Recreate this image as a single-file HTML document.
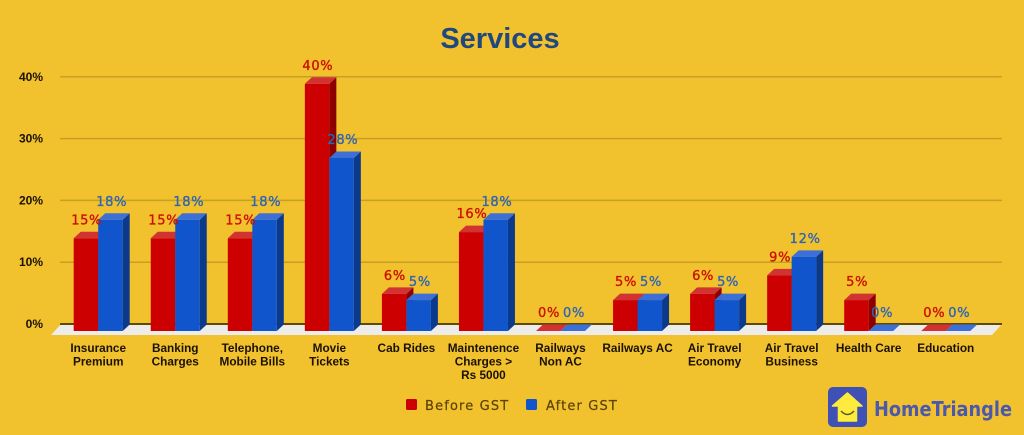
<!DOCTYPE html>
<html>
<head>
<meta charset="utf-8">
<title>Services</title>
<style>
html,body{margin:0;padding:0;background:#f2c12e;}
svg{display:block;}
.cat{font:bold 11.8px "Liberation Sans",sans-serif;fill:#1a1204;text-anchor:middle;}
.tick{font:bold 12px "Liberation Sans",sans-serif;fill:#1a1204;text-anchor:end;}
.val{font:13px "DejaVu Sans",sans-serif;text-anchor:middle;stroke-width:.35px;letter-spacing:.7px;}
.leg{font:13px "DejaVu Sans",sans-serif;fill:#5a4208;stroke:#5a4208;stroke-width:.2px;letter-spacing:1.15px;}
</style>
</head>
<body>
<svg id="chart" xmlns="http://www.w3.org/2000/svg" width="1024" height="435" viewBox="0 0 1024 435">
  <rect width="1024" height="435" fill="#f2c12e"/>
  <text x="500" y="48" text-anchor="middle" font-family="Liberation Sans, sans-serif" font-weight="bold" font-size="29" fill="#20487f">Services</text>
  <polygon points="51,335 61,324 1002,324 992,335" fill="#edecea"/>
  <g id="grid"></g>
  <g id="ticks"></g>
  <g id="bars"></g>
  <g id="values"></g>
  <g id="cats"></g>
  <g>
    <rect x="406" y="399" width="11" height="11" rx="1.5" fill="#cc0000"/>
    <text class="leg" x="425" y="410">Before GST</text>
    <rect x="526" y="399" width="11" height="11" rx="1.5" fill="#1155cc"/>
    <text class="leg" x="546" y="410">After GST</text>
  </g>
  <g>
    <rect x="828" y="387" width="39" height="40" rx="5" fill="#3f51b5"/>
    <polygon points="847.500,393 862,406 856.500,406 856.500,421 838.500,421 838.500,406 832.500,406" fill="#ffeb3b" stroke="#ffeb3b" stroke-width="1.500" stroke-linejoin="round"/>
    <path d="M841,411 Q847.500,418 854,411" fill="none" stroke="#5a5a30" stroke-width="1.500"/>
    <text x="874" y="416" font-family="DejaVu Sans, sans-serif" font-weight="bold" font-size="20" fill="#4a58ad" textLength="138" lengthAdjust="spacingAndGlyphs">HomeTriangle</text>
  </g>
</svg>
<script>
const categories = [
  ["Insurance", "Premium"],
  ["Banking", "Charges"],
  ["Telephone,", "Mobile Bills"],
  ["Movie", "Tickets"],
  ["Cab Rides"],
  ["Maintenence", "Charges >", "Rs 5000"],
  ["Railways", "Non AC"],
  ["Railways AC"],
  ["Air Travel", "Economy"],
  ["Air Travel", "Business"],
  ["Health Care"],
  ["Education"]
];
const beforeGst = [15, 15, 15, 40, 6, 16, 0, 5, 6, 9, 5, 0];
const afterGst = [18, 18, 18, 28, 5, 18, 0, 5, 5, 12, 0, 0];
const yTicks = [0, 10, 20, 30, 40];

const NS = "http://www.w3.org/2000/svg";
const barW = 24.5, depthX = 7, depthY = 6.5;
function groupX(i) { return 73.7 + 77.05 * i; }
function yFront(v) { return 331 - v * 6.18; }
function yBack(v) { return 324 - v * 6.18; }
function make(tag, parent) {
  const el = document.createElementNS(NS, tag);
  parent.appendChild(el);
  return el;
}
function poly(parent, pts, fill) {
  const el = make("polygon", parent);
  el.setAttribute("points", pts.map(function (p) { return p.join(","); }).join(" "));
  el.setAttribute("fill", fill);
  return el;
}
function drawBar(parent, x, v, front, top, side, key) {
  const g = make("g", parent);
  
  
  const t = yFront(v), b = yFront(0);
  if (v > 0) {
    poly(g, [[x + barW, t], [x + barW + depthX, t - depthY], [x + barW + depthX, b - depthY], [x + barW, b]], side);
  }
  poly(g, [[x, t], [x + depthX, t - depthY], [x + barW + depthX, t - depthY], [x + barW, t]], top);
  if (v > 0) {
    const r = make("rect", g);
    r.setAttribute("x", x);
    r.setAttribute("y", t);
    r.setAttribute("width", barW);
    r.setAttribute("height", b - t);
    r.setAttribute("fill", front);
  }
}
function drawValue(parent, x, v, color, key) {
  const el = make("text", parent);
  
  
  el.setAttribute("class", "val");
  el.setAttribute("x", x);
  el.setAttribute("y", yFront(v) - 14);
  el.setAttribute("fill", color);
  el.setAttribute("stroke", color);
  el.textContent = v + "%";
}

const gridG = document.getElementById("grid");
const ticksG = document.getElementById("ticks");
yTicks.forEach(function (v) {
  const line = make("line", gridG);
  
  
  line.setAttribute("x1", 60);
  line.setAttribute("x2", 1002);
  line.setAttribute("y1", yBack(v));
  line.setAttribute("y2", yBack(v));
  line.setAttribute("stroke", v === 0 ? "#5f4b00" : "#c79f24");
  line.setAttribute("stroke-width", v === 0 ? 2 : 1.5);
  const label = make("text", ticksG);
  
  
  label.setAttribute("class", "tick");
  label.setAttribute("x", 43);
  label.setAttribute("y", yBack(v) + 4);
  label.textContent = v + "%";
});

const barsG = document.getElementById("bars");
const valuesG = document.getElementById("values");
const catsG = document.getElementById("cats");
categories.forEach(function (lines, i) {
  const x = groupX(i);
  drawBar(barsG, x, beforeGst[i], "#cc0000", "#d13232", "#8c0000", "before-" + i);
  drawBar(barsG, x + barW, afterGst[i], "#1155cc", "#3c70d6", "#0b3a8c", "after-" + i);
  drawValue(valuesG, x + 13, beforeGst[i], "#cc1100", "before-" + i);
  drawValue(valuesG, x + barW + 13.5, afterGst[i], "#2f66b4", "after-" + i);
  const label = make("text", catsG);
  
  
  label.setAttribute("class", "cat");
  lines.forEach(function (line, j) {
    const span = make("tspan", label);
    span.setAttribute("x", x + barW);
    span.setAttribute("y", 352 + j * 13.5);
    span.textContent = line;
  });
});
</script>
</body>
</html>
